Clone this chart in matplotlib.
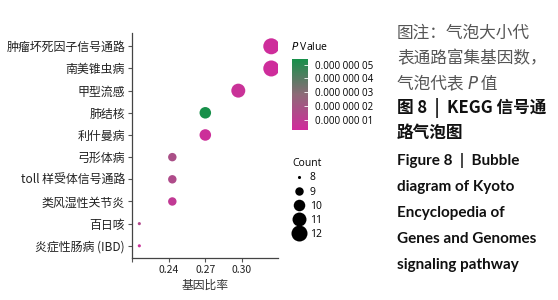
import numpy as np
import matplotlib
matplotlib.use("Agg")
import matplotlib.pyplot as plt
from matplotlib.colors import LinearSegmentedColormap, Normalize
from matplotlib.lines import Line2D

plt.rcParams["font.family"] = ["Noto Sans CJK SC", "DejaVu Sans"]

# ── data ──────────────────────────────────────────────────────────────────────

pathways = ["肿瘤坏死因子信号通路", "南美锥虫病", "甲型流感", "肺结核", "利什曼病",
            "弓形体病", "toll 样受体信号通路", "类风湿性关节炎", "百日咳", "炎症性肠病 (IBD)"]
gene_ratio = [0.324, 0.324, 0.297, 0.270, 0.270, 0.243, 0.243, 0.243, 0.216, 0.216]
counts = [12, 12, 11, 10, 10, 9, 9, 9, 8, 8]
p_values = [0.4e-8, 0.4e-8, 0.6e-8, 5.4e-8, 0.5e-8, 1.8e-8, 1.6e-8, 0.9e-8, 1.5e-8, 0.6e-8]

cbar_ticks = [1e-8, 2e-8, 3e-8, 4e-8, 5e-8]
cbar_labels = ["0.000 000 01", "0.000 000 02", "0.000 000 03", "0.000 000 04", "0.000 000 05"]
legend_counts = [8, 9, 10, 11, 12]
x_ticks = [0.21, 0.24, 0.27, 0.30]
x_labels = ["", "0.24", "0.27", "0.30"]

caption_cn = ["图注：气泡大小代", "表通路富集基因数，"]
caption_cn3 = ["气泡代表 ", "P", " 值"]
caption_fig = ["图 8  |  KEGG 信号通", "路气泡图"]
caption_en = ["Figure 8  |  Bubble", "diagram of Kyoto", "Encyclopedia of",
              "Genes and Genomes", "signaling pathway"]

# ── style helpers ─────────────────────────────────────────────────────────────

cmap = LinearSegmentedColormap.from_list("pv", ["#d12a9c", "#8e6a78", "#17904a"])
norm = Normalize(vmin=0.3e-8, vmax=5.4e-8)


def bubble_size(c):
    if c <= 8:
        return 5
    return 37 + 32 * (c - 9)


# ── figure ────────────────────────────────────────────────────────────────────

fig = plt.figure(figsize=(5.58, 3.0), dpi=100)
W, H = 558, 300


def fx(px):
    return px / W


def fy(py):
    return 1 - py / H


ax = fig.add_axes([fx(132), fy(258), fx(278 - 132), (258 - 33) / H])
ypos = np.arange(len(pathways))
ax.scatter(gene_ratio, ypos, s=[bubble_size(c) for c in counts],
           c=p_values, cmap=cmap, norm=norm, edgecolors="none", zorder=3)
ax.set_xlim(0.21, 0.3295)
ax.set_ylim(len(pathways) - 0.45, -0.6)
ax.set_yticks(ypos)
ax.set_yticklabels(pathways, fontsize=8.6, color="#222222")
ax.set_xticks(x_ticks)
ax.set_xticklabels(x_labels, fontsize=7.5, color="#222222")
ax.set_xlabel("基因比率", fontsize=8.5, color="#333333", labelpad=3)
for side in ["top", "right"]:
    ax.spines[side].set_visible(False)
for side in ["left", "bottom"]:
    ax.spines[side].set_color("#444444")
    ax.spines[side].set_linewidth(0.9)
ax.tick_params(axis="both", length=3, width=0.8, color="#555555", pad=2)

# colorbar
cax = fig.add_axes([fx(292), fy(130), fx(16), 71 / H])
sm = plt.cm.ScalarMappable(norm=norm, cmap=cmap)
cb = fig.colorbar(sm, cax=cax)
cb.outline.set_visible(False)
cb.set_ticks(cbar_ticks)
cb.set_ticklabels(cbar_labels)
cax.tick_params(labelsize=7, length=3, width=0.6, color="white", direction="in", pad=5)
for lab in cax.get_yticklabels():
    lab.set_family(["Open Sans", "DejaVu Sans"])
fig.text(fx(291), fy(47), "$\\it{P}$ Value", fontsize=7.5, va="center", ha="left",
         family=["Open Sans", "DejaVu Sans"])

# size legend
handles = [Line2D([], [], ls="none", marker="o", color="black",
                  markersize=np.sqrt(bubble_size(c)), markeredgewidth=0)
           for c in legend_counts]
leg = fig.legend(handles, [str(c) for c in legend_counts], title="Count",
                 loc="upper left", bbox_to_anchor=(fx(285), fy(151)),
                 frameon=False, fontsize=7.5, title_fontsize=7.5,
                 labelspacing=0.3, handletextpad=0.5, handlelength=1.2,
                 alignment="left", borderpad=0.2)
for t in leg.get_texts():
    t.set_family(["Open Sans", "DejaVu Sans"])
leg.get_title().set_family(["Open Sans", "DejaVu Sans"])

# caption text
cn_y = [33, 59]
for txt, y in zip(caption_cn, cn_y):
    fig.text(fx(397), fy(y), txt, fontsize=12, color="#555555", va="center", ha="left")

# third line with italic P, pieced together
renderer = fig.canvas.get_renderer()
x_px = 397
for i, part in enumerate(caption_cn3):
    t = fig.text(fx(x_px), fy(84), part, fontsize=12, color="#555555", va="center", ha="left",
                 style="italic" if i == 1 else "normal",
                 family=["DejaVu Sans"] if i == 1 else ["Noto Sans CJK SC", "DejaVu Sans"])
    x_px += t.get_window_extent(renderer).width

fig_y = [108, 133]
for txt, y in zip(caption_fig, fig_y):
    fig.text(fx(397), fy(y), txt, fontsize=12, color="#111111", va="center", ha="left",
             fontweight="bold")
en_y = [161, 187, 213, 239, 265]
for txt, y in zip(caption_en, en_y):
    fig.text(fx(397), fy(y), txt, fontsize=11, color="#111111", va="center", ha="left",
             fontweight="bold", family=["Lato", "DejaVu Sans"])

fig.savefig("out.png", dpi=100)
